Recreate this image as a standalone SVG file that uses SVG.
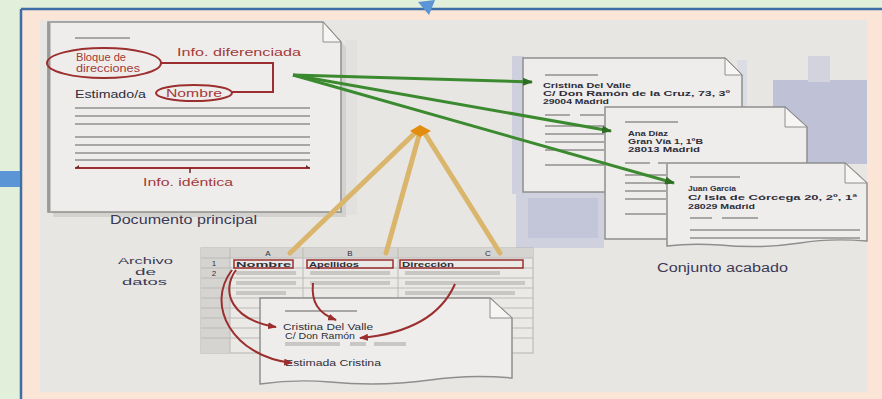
<svg xmlns="http://www.w3.org/2000/svg" width="882" height="399" viewBox="0 0 882 399">
<defs>
<style>
.t{font-family:"Liberation Sans",Arial,sans-serif;}
.red{fill:#a33a3a;}
.dk{fill:#2e2e3a;}
.lab{fill:#3a3a55;}
.gl{stroke:#a9a7a5;stroke-width:2;}
.page{fill:#efedeb;stroke:#8e8e8e;stroke-width:1.5;}
.fold{fill:#f6f5f3;stroke:#8e8e8e;stroke-width:1;}
.tan{stroke:#d9b66c;stroke-width:5;stroke-linecap:round;}
.grn{stroke:#3c8a2f;stroke-width:3;fill:none;}
.rc{fill:none;stroke:#9b2f2f;stroke-width:2;}
.cell{fill:none;stroke:#9b2f2f;stroke-width:1.5;}
.sl{stroke:#bcbab7;stroke-width:1;}
.gb{fill:#c9c7c4;}
</style>
<marker id="ag" markerWidth="10" markerHeight="8" refX="9" refY="4" orient="auto" markerUnits="userSpaceOnUse"><path d="M0,0 L10,4 L0,8 Z" fill="#2f6d25"/></marker>
<marker id="ar" markerWidth="9" markerHeight="7" refX="8" refY="3.5" orient="auto" markerUnits="userSpaceOnUse"><path d="M0,0 L9,3.5 L0,7 Z" fill="#9b2f2f"/></marker>
</defs>
<!-- backgrounds -->
<rect x="0" y="0" width="882" height="399" fill="#e2efda"/>
<rect x="21" y="9" width="861" height="390" fill="#fbe5d6"/>
<line x1="21" y1="9" x2="882" y2="9" stroke="#3e6ea8" stroke-width="2.5"/>
<line x1="21" y1="9" x2="21" y2="399" stroke="#3e6ea8" stroke-width="2.5"/>
<rect x="0" y="171" width="20" height="16" fill="#5b95d6"/>
<polygon points="418,2 435,0 429,15" fill="#5b95d6"/>
<rect x="40" y="20" width="827" height="372" fill="#e8e6e3"/>
<!-- decorative blocks behind finished set -->
<g id="set-bg">
<rect x="512" y="56" width="12" height="138" fill="#cfd0dd"/>
<rect x="516" y="192" width="88" height="56" fill="#d0d1de"/>
<rect x="528" y="198" width="70" height="40" fill="#c3c5d8"/>
<rect x="773" y="80" width="94" height="84" fill="#bfc1d6"/>
<rect x="808" y="56" width="22" height="26" fill="#d2d3dc"/>
<rect x="737" y="60" width="10" height="48" fill="#dcdce4"/>
<rect x="345" y="40" width="12" height="175" fill="#e2e1e0"/>
</g>
<!-- main document -->
<g id="documento-principal">
<polygon points="53,27 328,27 346,47 346,217 53,217" fill="#d4d2cf"/>
<polygon class="page" points="48,22 323,22 341,42 341,212 48,212"/>
<line x1="49" y1="23" x2="49" y2="211" stroke="#9c9a98" stroke-width="3"/>
<polygon class="fold" points="323,22 323,42 341,42"/>
<line class="gl" x1="75" y1="38" x2="130" y2="38"/>
<ellipse cx="104" cy="63" rx="57" ry="15" fill="none" stroke="#9b2f2f" stroke-width="2"/>
<text class="t red" x="76" y="61" font-size="10" textLength="50" lengthAdjust="spacingAndGlyphs">Bloque de</text>
<text class="t red" x="76" y="72" font-size="10" textLength="64" lengthAdjust="spacingAndGlyphs">direcciones</text>
<text class="t red" x="177" y="56" font-size="11" textLength="124" lengthAdjust="spacingAndGlyphs">Info. diferenciada</text>
<polyline points="161,63 273,63 273,92 232,92" fill="none" stroke="#9b2f2f" stroke-width="2"/>
<text class="t dk" x="75" y="98" font-size="10.5" textLength="71" lengthAdjust="spacingAndGlyphs">Estimado/a</text>
<ellipse cx="194" cy="93" rx="38" ry="8" fill="none" stroke="#9b2f2f" stroke-width="2"/>
<text class="t red" x="166" y="97" font-size="10" textLength="56" lengthAdjust="spacingAndGlyphs">Nombre</text>
<line class="gl" x1="75" y1="108" x2="310" y2="108"/>
<line class="gl" x1="75" y1="116" x2="310" y2="116"/>
<line class="gl" x1="75" y1="124" x2="310" y2="124"/>
<line class="gl" x1="75" y1="137" x2="310" y2="137"/>
<line class="gl" x1="75" y1="145" x2="310" y2="145"/>
<line class="gl" x1="75" y1="153" x2="310" y2="153"/>
<line class="gl" x1="75" y1="160" x2="310" y2="160"/>
<line x1="75" y1="168" x2="310" y2="168" stroke="#9b2f2f" stroke-width="1.8"/>
<polygon points="75,168 79,165 79,168" fill="#6a2a2a"/>
<polygon points="310,168 306,165 306,168" fill="#6a2a2a"/>
<line x1="190" y1="168" x2="190" y2="173" stroke="#6a2a2a" stroke-width="1.5"/>
<text class="t red" x="143" y="186" font-size="11" textLength="90" lengthAdjust="spacingAndGlyphs">Info. idéntica</text>
</g>
<text class="t lab" x="110" y="224" font-size="12" textLength="147" lengthAdjust="spacingAndGlyphs">Documento principal</text>
<!-- finished set pages -->
<g id="carta-1">
<polygon class="page" points="523,58 725,58 742,75 742,192 523,192"/>
<polygon class="fold" points="725,58 725,75 742,75"/>
<line class="gl" x1="545" y1="75" x2="598" y2="75"/>
<text class="t dk" x="543" y="88" font-size="8" textLength="88" lengthAdjust="spacingAndGlyphs" font-weight="bold">Cristina Del Valle</text>
<text class="t dk" x="543" y="96" font-size="8" textLength="187" lengthAdjust="spacingAndGlyphs" font-weight="bold">C/ Don Ramón de la Cruz, 73, 3º</text>
<text class="t dk" x="543" y="104" font-size="8" textLength="66" lengthAdjust="spacingAndGlyphs" font-weight="bold">29004 Madrid</text>
<line class="gl" x1="545" y1="115" x2="570" y2="115"/>
<line class="gl" x1="580" y1="115" x2="604" y2="115"/>
<line class="gl" x1="545" y1="126" x2="604" y2="126"/>
<line class="gl" x1="545" y1="134" x2="604" y2="134"/>
<line class="gl" x1="545" y1="142" x2="604" y2="142"/>
<line class="gl" x1="545" y1="150" x2="604" y2="150"/>
<line class="gl" x1="545" y1="165" x2="604" y2="165"/>
</g>
<g id="carta-2">
<polygon class="page" points="605,107 785,107 807,127 807,239 605,239"/>
<polygon class="fold" points="785,107 785,127 807,127"/>
<line class="gl" x1="625" y1="122" x2="678" y2="122"/>
<text class="t dk" x="628" y="136" font-size="8" textLength="40" lengthAdjust="spacingAndGlyphs" font-weight="bold">Ana Díaz</text>
<text class="t dk" x="628" y="144" font-size="8" textLength="75" lengthAdjust="spacingAndGlyphs" font-weight="bold">Gran Vía 1, 1ºB</text>
<text class="t dk" x="628" y="152" font-size="8" textLength="72" lengthAdjust="spacingAndGlyphs" font-weight="bold">28013 Madrid</text>
<line class="gl" x1="625" y1="163" x2="650" y2="163"/>
<line class="gl" x1="658" y1="163" x2="666" y2="163"/>
<line class="gl" x1="625" y1="175" x2="666" y2="175"/>
<line class="gl" x1="625" y1="183" x2="666" y2="183"/>
<line class="gl" x1="625" y1="191" x2="666" y2="191"/>
<line class="gl" x1="625" y1="199" x2="666" y2="199"/>
<line class="gl" x1="625" y1="214" x2="666" y2="214"/>
</g>
<g id="carta-3">
<path class="page" d="M667,163 L845,163 L867,183 L867,241 Q830,238 800,243 Q760,249 720,245 Q690,243 667,246 Z"/>
<polygon class="fold" points="845,163 845,183 867,183"/>
<line class="gl" x1="690" y1="177" x2="740" y2="177"/>
<text class="t dk" x="688" y="191" font-size="8" textLength="48" lengthAdjust="spacingAndGlyphs" font-weight="bold">Juan García</text>
<text class="t dk" x="688" y="200" font-size="8" textLength="169" lengthAdjust="spacingAndGlyphs" font-weight="bold">C/ Isla de Córcega 20, 2º, 1ª</text>
<text class="t dk" x="688" y="209" font-size="8" textLength="67" lengthAdjust="spacingAndGlyphs" font-weight="bold">28029 Madrid</text>
<line class="gl" x1="690" y1="218" x2="712" y2="218"/>
<line class="gl" x1="722" y1="218" x2="758" y2="218"/>
<line class="gl" x1="690" y1="230" x2="860" y2="230"/>
<line class="gl" x1="690" y1="238" x2="860" y2="238"/>
</g>
<text class="t lab" x="657" y="272" font-size="12" textLength="131" lengthAdjust="spacingAndGlyphs">Conjunto acabado</text>
<!-- data file -->
<g id="archivo-de-datos-label">
<text class="t lab" x="118" y="264" font-size="9" textLength="55" lengthAdjust="spacingAndGlyphs">Archivo</text>
<text class="t lab" x="135" y="274.5" font-size="9" textLength="21" lengthAdjust="spacingAndGlyphs">de</text>
<text class="t lab" x="122" y="285" font-size="9" textLength="45" lengthAdjust="spacingAndGlyphs">datos</text>
</g>
<g id="hoja-de-datos">
<rect x="201" y="248" width="332" height="105" fill="#ebe9e6" stroke="#b5b3b0" stroke-width="1"/>
<rect x="201" y="248" width="332" height="10" fill="#d6d4d0"/>
<rect x="201" y="248" width="29" height="105" fill="#d6d4d0"/>
<line class="sl" x1="201" y1="258" x2="533" y2="258"/>
<line class="sl" x1="201" y1="268" x2="533" y2="268"/>
<line class="sl" x1="201" y1="278" x2="533" y2="278"/>
<line class="sl" x1="201" y1="288" x2="533" y2="288"/>
<line class="sl" x1="201" y1="298" x2="533" y2="298"/>
<line class="sl" x1="201" y1="308" x2="533" y2="308"/>
<line class="sl" x1="201" y1="318" x2="533" y2="318"/>
<line class="sl" x1="201" y1="328" x2="533" y2="328"/>
<line class="sl" x1="201" y1="338" x2="533" y2="338"/>
<line class="sl" x1="230" y1="248" x2="230" y2="353"/>
<line class="sl" x1="303" y1="248" x2="303" y2="353"/>
<line class="sl" x1="398" y1="248" x2="398" y2="353"/>
<text class="t dk" x="268" y="256" font-size="8" text-anchor="middle">A</text>
<text class="t dk" x="350" y="256" font-size="8" text-anchor="middle">B</text>
<text class="t dk" x="488" y="256" font-size="8" text-anchor="middle">C</text>
<text class="t dk" x="214" y="266" font-size="8" text-anchor="middle">1</text>
<text class="t dk" x="214" y="276" font-size="8" text-anchor="middle">2</text>
<rect class="cell" x="234" y="260" width="59" height="8"/>
<rect class="cell" x="307" y="260" width="86" height="8"/>
<rect class="cell" x="400" y="260" width="123" height="8"/>
<text class="t dk" x="236" y="267" font-size="8" textLength="55" lengthAdjust="spacingAndGlyphs" font-weight="bold">Nombre</text>
<text class="t dk" x="309" y="267" font-size="8" textLength="50" lengthAdjust="spacingAndGlyphs" font-weight="bold">Apellidos</text>
<text class="t dk" x="402" y="267" font-size="8" textLength="52" lengthAdjust="spacingAndGlyphs" font-weight="bold">Dirección</text>
<rect class="gb" x="236" y="271" width="60" height="4"/>
<rect class="gb" x="236" y="281" width="60" height="4"/>
<rect class="gb" x="236" y="291" width="50" height="4"/>
<rect class="gb" x="310" y="271" width="80" height="4"/>
<rect class="gb" x="310" y="281" width="80" height="4"/>
<rect class="gb" x="405" y="271" width="95" height="4"/>
<rect class="gb" x="405" y="281" width="120" height="4"/>
<rect class="gb" x="405" y="291" width="110" height="4"/>
</g>
<!-- merged result document -->
<g id="documento-combinado">
<path class="page" d="M260,298 L490,298 L512,318 L512,378 Q470,374 430,380 Q380,387 330,382 Q295,379 260,384 Z"/>
<polygon class="fold" points="490,298 490,318 512,318"/>
<line class="gl" x1="285" y1="311" x2="357" y2="311"/>
<text class="t dk" x="283" y="330" font-size="8.5" textLength="90" lengthAdjust="spacingAndGlyphs">Cristina Del Valle</text>
<text class="t dk" x="285" y="339" font-size="8.5" textLength="70" lengthAdjust="spacingAndGlyphs">C/ Don Ramón</text>
<rect class="gb" x="285" y="342" width="55" height="4"/>
<rect class="gb" x="350" y="342" width="16" height="4"/>
<rect class="gb" x="374" y="342" width="32" height="4"/>
<text class="t dk" x="285" y="366" font-size="8.5" textLength="96" lengthAdjust="spacingAndGlyphs">Estimada Cristina</text>
</g>
<!-- connectors -->
<g id="conectores">
<line class="tan" x1="416" y1="132" x2="290" y2="253"/>
<line class="tan" x1="420" y1="132" x2="386" y2="253"/>
<line class="tan" x1="424" y1="132" x2="500" y2="253"/>
<polygon points="410,131 420,125 431,131 420,137" fill="#e38c0e"/>
<line class="grn" x1="293" y1="75" x2="532" y2="82" marker-end="url(#ag)"/>
<line class="grn" x1="293" y1="75" x2="611" y2="131" marker-end="url(#ag)"/>
<line class="grn" x1="293" y1="75" x2="674" y2="183" marker-end="url(#ag)"/>
<path class="rc" d="M236,270 C220,292 232,320 276,327" marker-end="url(#ar)"/>
<path class="rc" d="M232,270 C205,305 232,356 292,363" marker-end="url(#ar)"/>
<path class="rc" d="M313,283 C311,302 318,313 336,320" marker-end="url(#ar)"/>
<path class="rc" d="M455,284 C440,318 405,334 360,338" marker-end="url(#ar)"/>
</g>
</svg>
